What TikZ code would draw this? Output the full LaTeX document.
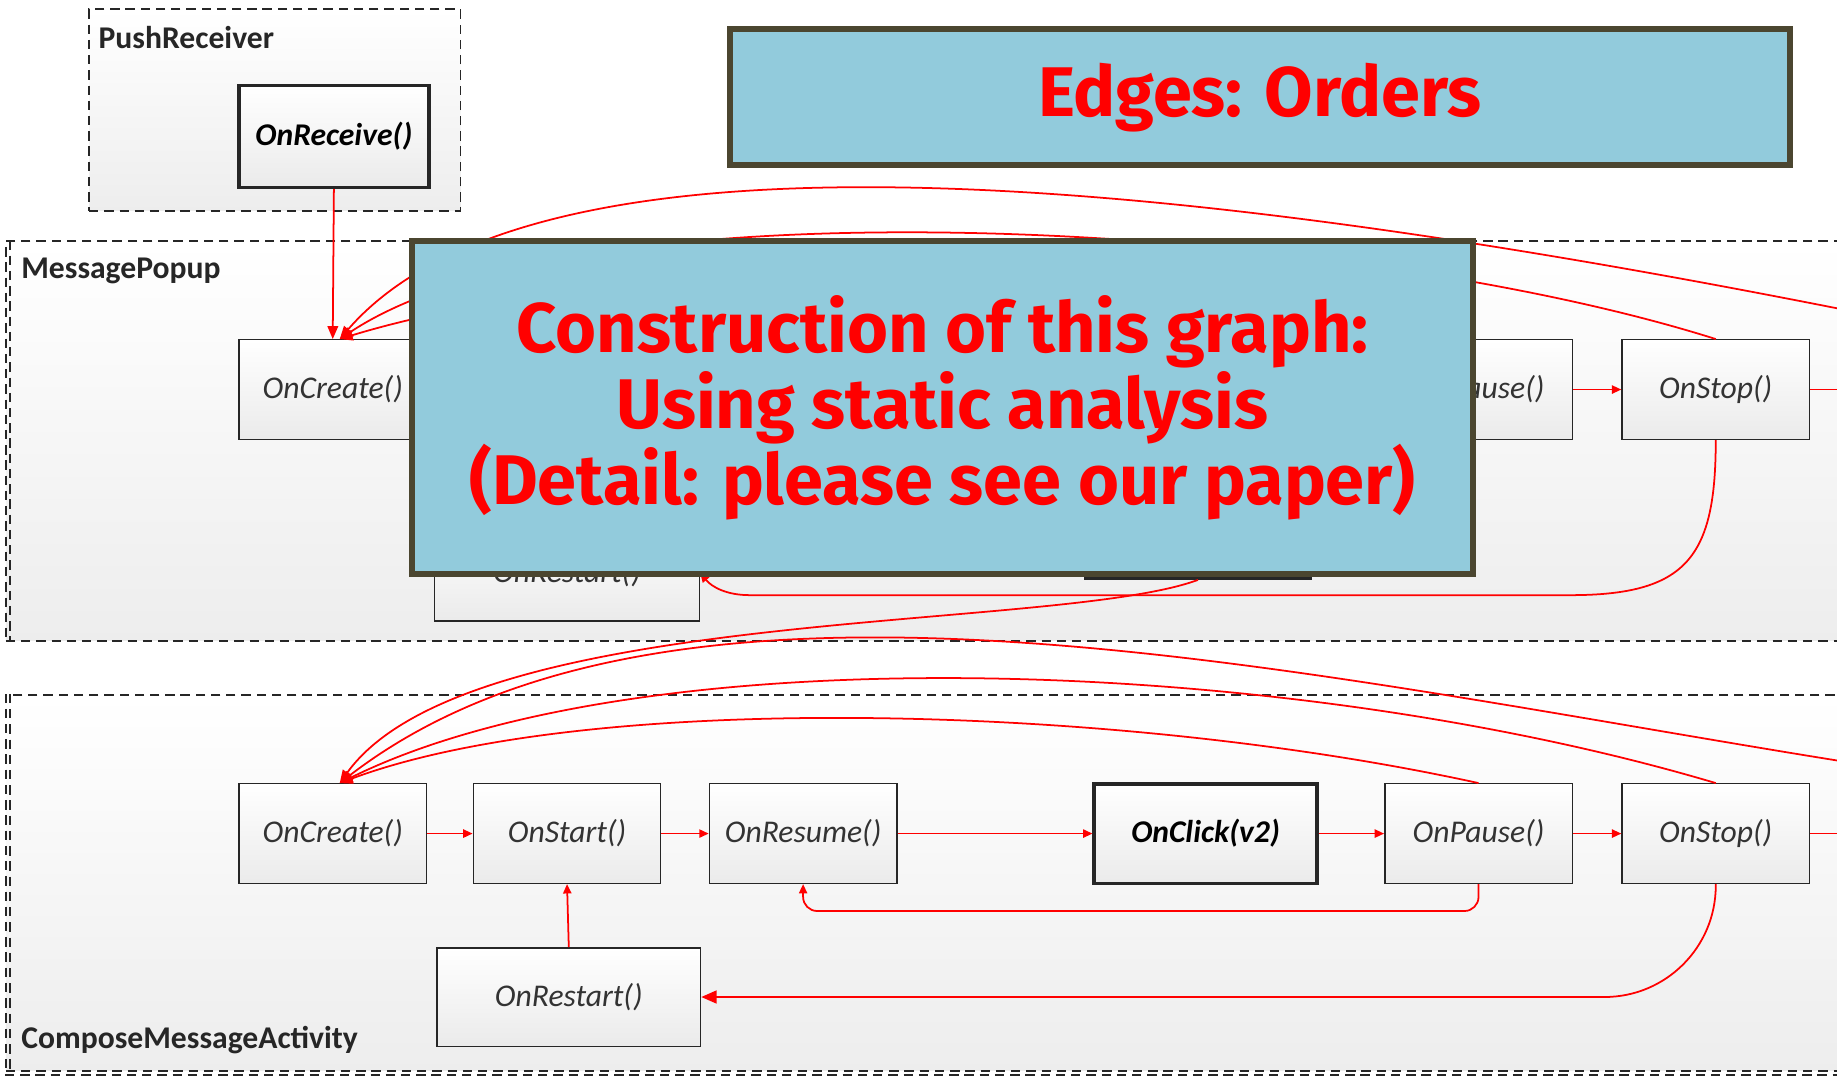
\documentclass[tikz,border=0pt]{standalone}
\usepackage{fontspec}
\setmainfont{Carlito}
\newfontfamily\notefont{Fira Sans}
\usetikzlibrary{positioning,arrows.meta}

\definecolor{noteblue}{HTML}{92CBDC}
\definecolor{noteedge}{HTML}{4B4630}

\tikzset{
  compedge/.style={draw=black!85, line width=1.5pt, dash pattern=on 8pt off 5pt},
  compbox/.style={compedge, top color=white, bottom color=black!7, inner sep=0pt},
  complabel/.style={anchor=west, inner sep=0pt, font=\bfseries\fontsize{27}{30}\selectfont, text=black!85},
  cbbox/.style={draw=black!85, line width=1.2pt, top color=white, bottom color=black!8,
    minimum width=160pt, minimum height=85pt, inner sep=0pt,
    font=\itshape\fontsize{27}{30}\selectfont, text=black!80},
  keybox/.style={cbbox, line width=3pt, text=black, font=\bfseries\itshape\fontsize{27}{30}\selectfont},
  flow/.style={red, line width=1.5pt, -{Triangle[length=8pt,width=7pt]}},
  intoflow/.style={flow, -{Triangle[length=11pt,width=9pt]}},
  notebox/.style={fill=noteblue, draw=noteedge, line width=5pt, inner sep=0pt, align=center,
    text=red, font=\notefont\bfseries\fontsize{60}{65}\selectfont},
}

\begin{document}
\begin{tikzpicture}[x=1pt, y=-1pt]
\useasboundingbox (0,0) rectangle (1568,919);

% components
\node[compbox, minimum width=317pt, minimum height=172pt] (pushrecv) at (234.5,94) {};
\node[complabel] at (84,32) {PushReceiver};
\node[compbox, minimum width=1595pt, minimum height=341pt] (mpop) at (802.5,376.5) {};
\draw[compedge] ([xshift=4pt]mpop.north west) -- ([xshift=4pt]mpop.south west);
\node[complabel] at (18,231) {MessagePopup};
\node[compbox, minimum width=1595pt, minimum height=321pt] (cma) at (802.5,753.5) {};
\draw[compedge] ([xshift=4pt]cma.north west) -- ([xshift=4pt]cma.south west);
\draw[compedge] ([yshift=-3pt]cma.south west) -- ([yshift=-3pt]cma.south east);
\node[complabel] at (18,888) {ComposeMessageActivity};

% callbacks
\node[keybox, minimum width=162pt, minimum height=87pt] (recv) at (285,116.5) {OnReceive()};

\node[cbbox] (mCreate) at (284,332.5) {OnCreate()};
\node[keybox, minimum width=191pt] (mClick) at (1022.5,451) {};
\node[cbbox, minimum width=226pt, minimum height=82pt] (mRestart) at (484,489) {OnRestart()};
\node[cbbox] (mPause) at (1262,332.5) {OnPause()};
\node[cbbox] (mStop) at (1464.5,332.5) {OnStop()};
\coordinate (mOut) at (1600,332.5);
\coordinate (mEnd) at (1700,290);
\coordinate (mTurn) at (1340,508);
\coordinate (mLoop) at (640,508);
\coordinate (mResumeIn) at (687,375);

\node[cbbox] (cCreate) at (284,711.5) {OnCreate()};
\node[cbbox] (cStart) at (484,711.5) {OnStart()};
\node[cbbox] (cResume) at (685.5,711.5) {OnResume()};
\node[keybox, minimum width=190pt] (cClick) at (1029,711.5) {OnClick(v2)};
\node[cbbox] (cPause) at (1262,711.5) {OnPause()};
\node[cbbox] (cStop) at (1464.5,711.5) {OnStop()};
\node[cbbox, minimum width=225pt, minimum height=84pt] (cRestart) at (485.5,851) {OnRestart()};
\coordinate (cOut) at (1600,711.5);
\coordinate (cEnd) at (1700,669);

% orders in MessagePopup
\draw[intoflow] (recv.south) -- (mCreate.north);
\draw[intoflow] (mEnd) .. controls (1150,175) and (480,70) .. ([xshift=6pt]mCreate.north);
\draw[intoflow] (mStop.north) .. controls (1150,190) and (500,150) .. ([xshift=6pt]mCreate.north);
\draw[intoflow] ([xshift=-12pt]mPause.north) .. controls (1000,230) and (550,210) .. ([xshift=6pt]mCreate.north);
\draw[flow] (mPause) -- (mStop);
\draw[flow] (mStop) -- (mOut);
\draw[flow, rounded corners=12pt] ([xshift=-4pt]mPause.south) -- ++(0,24) -| (mResumeIn);
\draw[flow] (mStop.south) .. controls +(0,100) and +(100,0) .. (mTurn) -- (mLoop)
  .. controls +(-20,0) and +(10,12) .. (mRestart.east);

% MessagePopup -> ComposeMessageActivity
\draw[intoflow] (mClick.south) .. controls (900,540) and (400,515) .. ([xshift=6pt]cCreate.north);

% orders in ComposeMessageActivity
\draw[flow] (cCreate) -- (cStart);
\draw[flow] (cStart) -- (cResume);
\draw[flow] (cResume) -- (cClick);
\draw[flow] (cClick) -- (cPause);
\draw[flow] (cPause) -- (cStop);
\draw[flow] (cStop) -- (cOut);
\draw[flow] (cRestart.north) -- (cStart.south);
\draw[flow, rounded corners=12pt] (cPause.south) -- ++(0,23) -| (cResume.south);
\draw[flow, -{Triangle[length=13pt,width=11pt]}, rounded corners=95pt] (cStop.south) |- (cRestart.east);
\draw[intoflow] (cPause.north) .. controls (950,600) and (500,590) .. ([xshift=6pt]cCreate.north);
\draw[intoflow] (cStop.north) .. controls (1100,560) and (550,540) .. ([xshift=6pt]cCreate.north);
\draw[intoflow] (cEnd) .. controls (1200,600) and (600,430) .. ([xshift=6pt]cCreate.north);

% notes
\node[notebox, minimum width=905pt, minimum height=116pt] (title) at (1075.5,83) {Edges: Orders};
\node[notebox, minimum width=905pt, minimum height=284pt] (note) at (804.5,348)
  {Construction of this graph:\\Using static analysis\\(Detail: please see our paper)};
\end{tikzpicture}
\end{document}
